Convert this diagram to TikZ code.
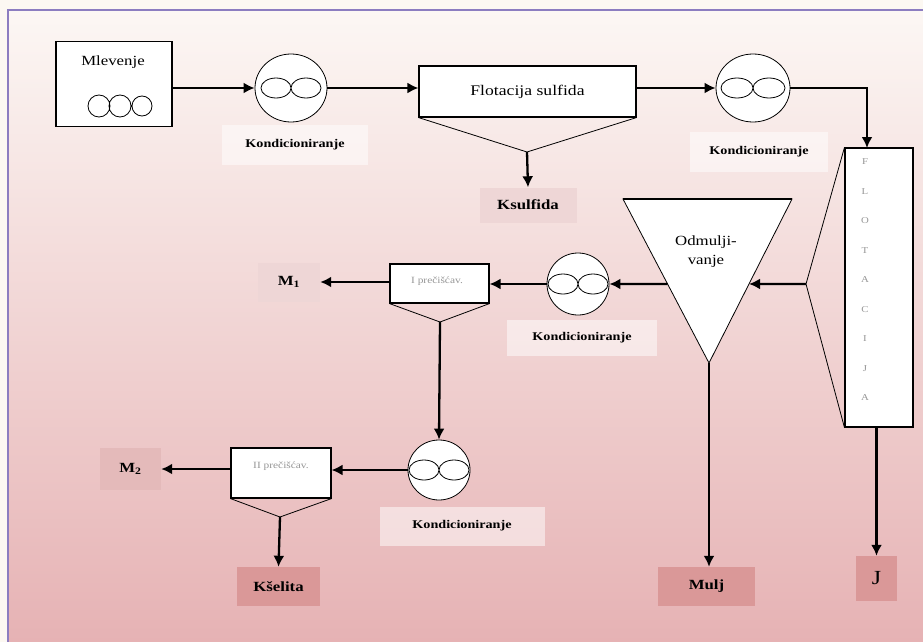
\documentclass[tikz,border=0pt]{standalone}
\usepackage{fontspec}
\setmainfont[FakeStretch=1.2]{Liberation Serif}
\usetikzlibrary{arrows.meta,shapes,positioning,calc}

\definecolor{frameline}{RGB}{140,125,192}
\definecolor{outside}{RGB}{252,248,242}
\definecolor{bgtop}{RGB}{252,247,244}
\definecolor{bgbot}{RGB}{230,178,180}
\definecolor{palepink}{RGB}{238,214,214}
\definecolor{midpink}{RGB}{228,186,186}
\definecolor{deeppink}{RGB}{218,152,152}
\definecolor{greytext}{RGB}{150,150,150}

\tikzset{
    unit box/.style={rectangle, draw, line width=1.1pt, fill=white, inner sep=0pt},
    cond/.style={ellipse, draw, line width=0.8pt, fill=white, inner sep=0pt},
    cond label/.style={rectangle, fill=white, fill opacity=0.5, text opacity=1,
        font=\fontsize{11.8}{13}\selectfont\bfseries, minimum width=146pt, minimum height=40pt},
    product/.style={rectangle, inner sep=0pt, font=\fontsize{14}{16}\selectfont\bfseries},
    flow/.style={->, line width=2.3pt},
    cone/.style={line width=0.8pt}
}

\begin{document}
\begin{tikzpicture}[x=1pt, y=-1pt, >={Latex[length=11pt,width=11pt]}]
    \useasboundingbox (0,0) rectangle (923,642);
    % background and frame
    \fill[outside] (0,0) rectangle (923,642);
    \shade[top color=bgtop, bottom color=bgbot] (8,10) rectangle (923,642);
    \draw[frameline, line width=1.5pt] (8,642) -- (8,10) -- (923,10);

    % grinding
    \node[unit box, minimum width=116pt, minimum height=85pt] (mlev) at (114,84) {};
    \node[font=\fontsize{14}{16}\selectfont] (mlevtxt) at (113,62) {Mlevenje};
    \draw[line width=0.8pt] (99,106) circle (11pt) (120,106) circle (11pt) (142,106) circle (10pt);

    % first conditioning
    \node[cond, minimum width=72pt, minimum height=68pt] (k1) at (291,88) {};
    \draw[line width=0.8pt] ([xshift=-15pt]k1.center) ellipse (15pt and 10pt)
                ([xshift=15pt]k1.center) ellipse (15pt and 10pt);
    \node[cond label] (k1l) at (295,145) {Kondicioniranje};

    % sulphide flotation
    \node[unit box, minimum width=217pt, minimum height=51pt,
          font=\fontsize{14.7}{16}\selectfont] (fs) at (527.5,91.5) {Flotacija sulfida};
    \coordinate (fsa) at (527,152);
    \draw[cone] (fs.south west) -- (fsa) -- (fs.south east);
    \node[product, fill=palepink, minimum width=97pt, minimum height=35pt] (ks) at (528,205) {Ksulfida};

    % second conditioning
    \node[cond, minimum width=74pt, minimum height=68pt] (k2) at (753,88) {};
    \draw[line width=0.8pt] ([xshift=-16pt]k2.center) ellipse (16pt and 10pt)
                ([xshift=16pt]k2.center) ellipse (16pt and 10pt);
    \node[cond label, minimum width=138pt] (k2l) at (759,152) {Kondicioniranje};

    % main flotation column
    \node[unit box, minimum width=68pt, minimum height=279pt] (flot) at (879,287.5) {};
    \node[align=center, text=greytext, font=\fontsize{9}{29.5}\selectfont] (flottxt) at (865,280)
        {F\\L\\O\\T\\A\\C\\I\\J\\A};
    \coordinate (fla) at (806,284);
    \coordinate (flin) at (867,148);
    \draw[cone] (flot.north west) -- (fla) -- (flot.south west);

    % desliming cone
    \coordinate (odl) at (623,199);
    \coordinate (odr) at (792,199);
    \coordinate (odb) at (709,363);
    \filldraw[fill=white, line width=0.8pt] (odl) -- (odr) -- (odb) -- cycle;
    \draw[line width=1.1pt] (odl) -- (odr);
    \node[align=center, font=\fontsize{14}{19}\selectfont] (odtxt) at (706,252) {Odmulji-\\vanje};
    \coordinate (odin) at ($(odr)!0.518!(odb)$);
    \coordinate (odout) at ($(odl)!0.518!(odb)$);

    % third conditioning and first cleaning
    \node[cond, minimum width=62pt, minimum height=62pt] (k3) at (578,284) {};
    \draw[line width=0.8pt] ([xshift=-15pt]k3.center) ellipse (15pt and 10pt)
                ([xshift=15pt]k3.center) ellipse (15pt and 10pt);
    \node[cond label, minimum width=150pt, minimum height=36pt] (k3l) at (582,338) {Kondicioniranje};
    \node[unit box, minimum width=99pt, minimum height=39pt] (p1) at (439.5,283.5) {};
    \node[text=greytext, font=\fontsize{9.5}{11}\selectfont] (p1txt) at (437,281) {I prečišćav.};
    \coordinate (p1a) at (440,322);
    \draw[cone] (p1.south west) -- (p1a) -- (p1.south east);
    \node[product, fill=palepink, minimum width=62pt, minimum height=39pt] (m1) at (289,282) {M\textsubscript{1}};

    % fourth conditioning and second cleaning
    \node[cond, minimum width=62pt, minimum height=60pt] (k4) at (439,470) {};
    \draw[line width=0.8pt] ([xshift=-15pt]k4.center) ellipse (15pt and 10pt)
                ([xshift=15pt]k4.center) ellipse (15pt and 10pt);
    \node[cond label, minimum width=165pt, minimum height=39pt] (k4l) at (462,526) {Kondicioniranje};
    \node[unit box, minimum width=100pt, minimum height=50pt] (p2) at (281,473) {};
    \node[text=greytext, font=\fontsize{9.5}{11}\selectfont] (p2txt) at (281,466) {II prečišćav.};
    \coordinate (p2a) at (280,517);
    \draw[cone] (p2.south west) -- (p2a) -- (p2.south east);
    \node[product, fill=midpink, minimum width=61pt, minimum height=42pt] (m2) at (130.5,469) {M\textsubscript{2}};
    \node[product, fill=deeppink, minimum width=83pt, minimum height=39pt] (kse) at (278.5,586.5) {Kšelita};

    % tailings
    \node[product, fill=deeppink, minimum width=97pt, minimum height=39pt] (mulj) at (706.5,586.5) {Mulj};
    \node[product, fill=deeppink, minimum width=41pt, minimum height=45pt,
          font=\fontsize{20}{22}\selectfont] (j) at (876.5,578.5) {J};

    % flows
    \draw[flow] (mlev.east |- k1.west) -- (k1.west);
    \draw[flow] (k1.east) -- (k1.east -| fs.west);
    \draw[flow] (fsa) -- (ks.north);
    \draw[flow] (fs.east |- k2.west) -- (k2.west);
    \draw[flow] (k2.east) -| (flin);
    \draw[flow] (fla) -- (odin);
    \draw[flow] (odout) -- (k3.east);
    \draw[flow] (k3.west) -- (k3.west -| p1.east);
    \draw[flow] (p1.west |- m1.east) -- (m1.east);
    \draw[flow] (p1a) -- (k4.north);
    \draw[flow] (k4.west) -- (k4.west -| p2.east);
    \draw[flow] (p2.west |- m2.east) -- (m2.east);
    \draw[flow] (p2a) -- (kse.north);
    \draw[flow] (odb) -- (odb |- mulj.north);
    \draw[flow] (j.north |- flot.south) -- (j.north);
\end{tikzpicture}
\end{document}
